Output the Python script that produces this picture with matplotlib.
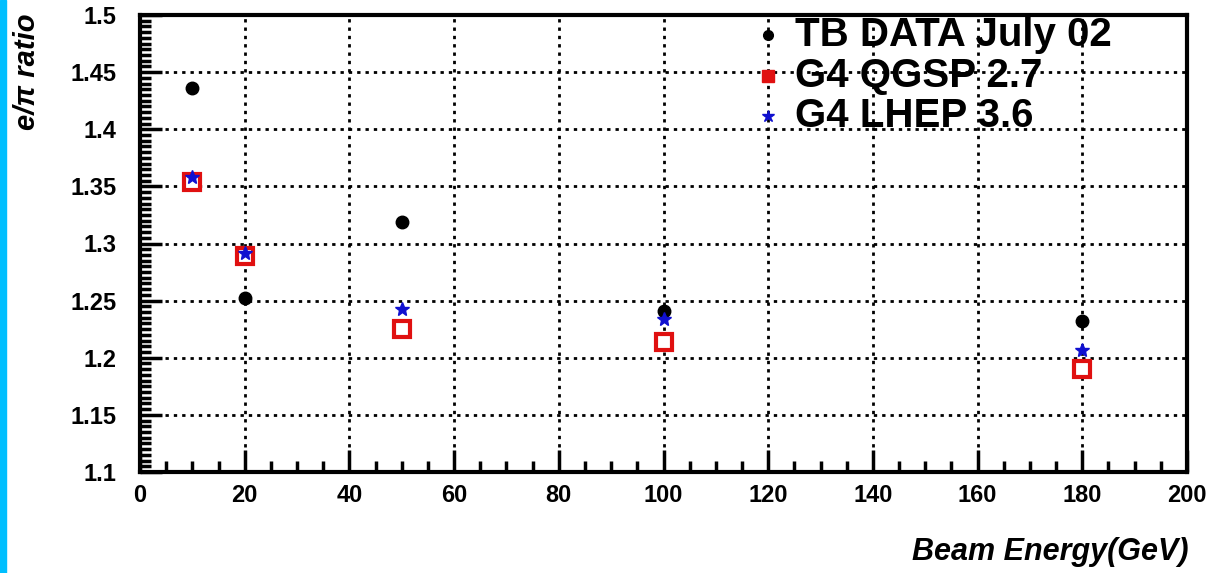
import numpy as np
import matplotlib.pyplot as plt
from matplotlib.ticker import MultipleLocator
from matplotlib.patches import Rectangle

plt.rcParams['font.family'] = ['Liberation Sans', 'DejaVu Sans']

# beam energies (GeV)
energy = [10, 20, 50, 100, 180]

# e/pi ratio
tb_data = [1.436, 1.252, 1.319, 1.241, 1.232]
qgsp = [1.354, 1.289, 1.225, 1.214, 1.190]
lhep = [1.358, 1.292, 1.243, 1.234, 1.207]

labels = ["TB DATA July 02", "G4 QGSP 2.7", "G4 LHEP 3.6"]

fig = plt.figure(figsize=(12.09, 5.73), dpi=100)
fig.patches.append(Rectangle((0, 0), 6 / 1209, 1, transform=fig.transFigure,
                             color="#00bfff", zorder=0))
ax = fig.add_axes([140 / 1209, 101 / 573, 1047 / 1209, 457 / 573])

ax.plot(energy, tb_data, "o", color="black", ms=9, zorder=4)
ax.plot(energy, qgsp, "s", mfc="white", mec="#e01010", mew=3, ms=11, zorder=3)
ax.plot(energy, lhep, "*", color="#1010d0", ms=10, zorder=5)

ax.set_xlim(0, 200)
ax.set_ylim(1.1, 1.5)
ax.xaxis.set_major_locator(MultipleLocator(20))
ax.xaxis.set_minor_locator(MultipleLocator(5))
ax.yaxis.set_major_locator(MultipleLocator(0.05))
ax.yaxis.set_minor_locator(MultipleLocator(0.005))
ax.yaxis.set_major_formatter(plt.FuncFormatter(lambda v, p: f"{v:.2f}".rstrip("0")))

ax.tick_params(which="both", direction="in", top=False, right=False, width=2.5)
ax.tick_params(which="major", length=16, labelsize=17)
ax.tick_params(which="minor", length=8)
ax.tick_params(axis="x", pad=9)
ax.tick_params(axis="y", pad=17)
for lab in ax.get_xticklabels() + ax.get_yticklabels():
    lab.set_fontweight("bold")
for sp in ax.spines.values():
    sp.set_linewidth(3)

ax.grid(True, which="major", color="black", linestyle=(0, (1.2, 1.8)), linewidth=2)
ax.set_axisbelow(True)

# legend
rows = [0.956, 0.867, 0.779]
styles = [dict(marker="o", color="black", ms=7),
          dict(marker="s", color="#e01010", ms=8),
          dict(marker="*", color="#1010d0", ms=9)]
for y, lab, st in zip(rows, labels, styles):
    ax.plot([0.600], [y], transform=ax.transAxes, linestyle="none", clip_on=False, **st)
    ax.text(0.626, y, lab, transform=ax.transAxes, fontsize=29, fontweight="bold",
            va="center", ha="left")

fig.text(27 / 1209, 1 - 14 / 573, "e/π ratio", rotation=90, ha="center", va="top",
         fontsize=21, fontweight="bold", fontstyle="italic")
fig.text(1189 / 1209, 1 - 552 / 573, "Beam Energy(GeV)", ha="right", va="center",
         fontsize=22, fontweight="bold", fontstyle="italic")

fig.savefig("out.png", dpi=100)
